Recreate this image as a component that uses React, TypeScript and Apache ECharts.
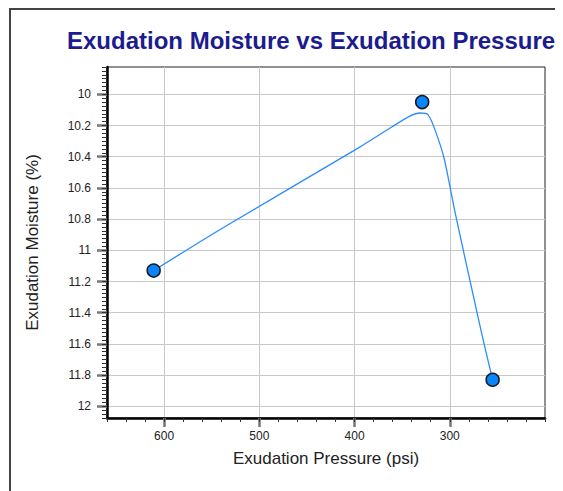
import React, { useEffect, useRef } from "react";
import * as echarts from "echarts";

const titleText = "Exudation Moisture vs Exudation Pressure";
const xAxisName = "Exudation Pressure (psi)";
const yAxisName = "Exudation Moisture (%)";

// measured points
const pressure = [611, 329, 255];
const moisture = [11.13, 10.05, 11.83];

// smoothed curve
const curvePressure = [611, 542, 395, 361, 342, 331, 323, 316, 306, 294, 267, 255];
const curveMoisture = [11.13, 10.87, 10.34, 10.21, 10.14, 10.12, 10.13, 10.22, 10.41, 10.77, 11.52, 11.83];

const xTicks = [300, 400, 500, 600];
const yTicks = [10, 10.2, 10.4, 10.6, 10.8, 11, 11.2, 11.4, 11.6, 11.8, 12];

const FONT = "Liberation Sans, Arial, sans-serif";

export default function App() {
  const ref = useRef<HTMLDivElement>(null);
  useEffect(() => {
    if (!ref.current) return;
    const chart = echarts.init(ref.current, undefined, { renderer: "svg" });
    const gridPos = { left: 99, top: 59, width: 438, height: 351 };
    chart.setOption({
      animation: false,
      textStyle: { fontFamily: FONT },
      title: {
        text: titleText,
        left: 59,
        top: 20,
        padding: 0,
        textStyle: { fontSize: 24, fontWeight: "bold", color: "#1c1c8e", fontFamily: FONT },
      },
      graphic: [
        {
          type: "rect",
          shape: { x: 2, y: 1, width: 1000, height: 1000 },
          style: { fill: "transparent", stroke: "#444", lineWidth: 2 },
          silent: true,
        },
      ],
      grid: [
        { ...gridPos, show: true, borderColor: "#222", borderWidth: 1, backgroundColor: "#fff", outerBoundsMode: "none" },
        { ...gridPos, show: false, outerBoundsMode: "none" },
      ],
      xAxis: [
        {
          type: "value",
          gridIndex: 0,
          min: 200,
          max: 660,
          interval: 100,
          inverse: true,
          name: xAxisName,
          nameLocation: "middle",
          nameGap: 32,
          nameTextStyle: { fontSize: 17, color: "#222", fontFamily: FONT },
          axisLine: { lineStyle: { color: "#000", width: 2.5 } },
          axisTick: { customValues: xTicks, length: 9, lineStyle: { color: "#777", width: 2.5 } },
          axisLabel: { customValues: xTicks, margin: 12, fontSize: 12, color: "#222", fontFamily: FONT },
          splitLine: { show: true, lineStyle: { color: "#c8c8c8", width: 1 } },
        },
        {
          type: "value",
          gridIndex: 1,
          min: 200,
          max: 660,
          interval: 20,
          inverse: true,
          axisLine: { show: false },
          axisTick: { length: 4, lineStyle: { color: "#333", width: 1 } },
          axisLabel: { show: false },
          splitLine: { show: false },
        },
      ],
      yAxis: [
        {
          type: "value",
          gridIndex: 0,
          min: 9.825,
          max: 12.075,
          splitNumber: 11,
          inverse: true,
          name: yAxisName,
          nameLocation: "middle",
          nameGap: 66,
          nameTextStyle: { fontSize: 17, color: "#222", fontFamily: FONT },
          axisLine: { lineStyle: { color: "#000", width: 2.5 } },
          axisTick: { customValues: yTicks, length: 10, lineStyle: { color: "#777", width: 2.5 } },
          axisLabel: {
            customValues: yTicks,
            margin: 16,
            fontSize: 12,
            color: "#222",
            fontFamily: FONT,
            formatter: (v: number) => String(Math.round(v * 10) / 10),
          },
          splitLine: { show: true, lineStyle: { color: "#c8c8c8", width: 1 } },
        },
        {
          type: "value",
          gridIndex: 1,
          min: 9.825,
          max: 12.075,
          interval: 0.025,
          inverse: true,
          axisLine: { show: false },
          axisTick: { length: 5, lineStyle: { color: "#333", width: 1 } },
          axisLabel: { show: false },
          splitLine: { show: false },
        },
      ],
      series: [
        {
          type: "line",
          xAxisIndex: 0,
          yAxisIndex: 0,
          data: curvePressure.map((p, i) => [p, curveMoisture[i]]),
          smooth: 0.25,
          showSymbol: false,
          lineStyle: { color: "#2a8cff", width: 1.3 },
          z: 3,
        },
        {
          type: "scatter",
          xAxisIndex: 0,
          yAxisIndex: 0,
          data: pressure.map((p, i) => [p, moisture[i]]),
          symbol: "circle",
          symbolSize: 13,
          itemStyle: { color: "#0a84ff", borderColor: "#1a1a1a", borderWidth: 1.5, opacity: 1 },
          z: 4,
        },
      ],
    });
    return () => chart.dispose();
  }, []);
  return <div ref={ref} style={{ width: 555, height: 483 }} />;
}
